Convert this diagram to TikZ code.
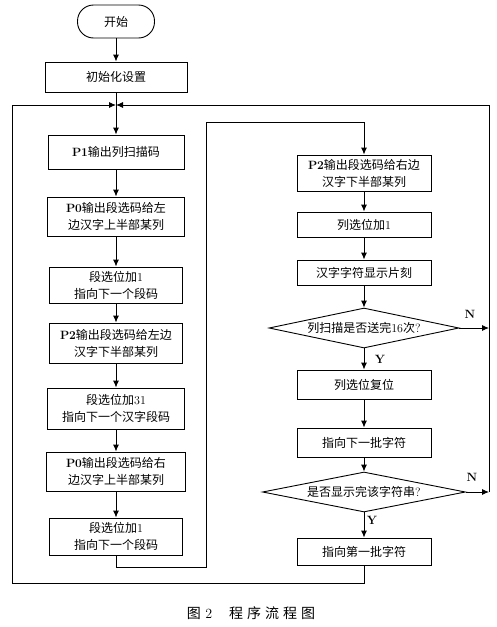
\documentclass[tikz,border=0pt]{standalone}
\usepackage{fontspec}
\newfontfamily\cjk{Noto Sans CJK SC}
\usetikzlibrary{shapes.geometric,arrows.meta}
\newcommand{\zh}[1]{{\cjk #1}}
\begin{document}
\begin{tikzpicture}[x=1pt,y=-1pt,
  line width=0.9pt,
  box/.style={draw, line width=0.9pt, inner sep=0pt, align=center, font=\fontsize{12}{17}\selectfont},
  term/.style={box, rounded corners=16pt},
  dec/.style={draw, diamond, aspect=4.75, inner sep=0pt, line width=0.9pt, font=\fontsize{12}{17}\selectfont},
  lab/.style={font=\fontsize{12}{14}\selectfont\bfseries, inner sep=0pt},
  arr/.style={-{Latex[length=7pt,width=6pt]}}]
\useasboundingbox (0,0) rectangle (497,627);
% left column
\node[term, minimum width=77pt, minimum height=33pt] (start) at (116,21.5) {\zh{开始}};
\node[box, minimum width=142pt, minimum height=30pt] (init) at (116,77) {\zh{初始化设置}};
\node[box, minimum width=136pt, minimum height=34pt] (p1) at (116,152) {\textbf{P1}\zh{输出列扫描码}};
\node[box, minimum width=137pt, minimum height=39pt] (p0l) at (116,216.5) {\textbf{P0}\zh{输出段选码给左}\\\zh{边汉字上半部某列}};
\node[box, minimum width=133pt, minimum height=36pt] (inc1) at (116,285) {\zh{段选位加}1\\\zh{指向下一个段码}};
\node[box, minimum width=133pt, minimum height=40pt] (p2l) at (116,343) {\textbf{P2}\zh{输出段选码给左边}\\\zh{汉字下半部某列}};
\node[box, minimum width=137pt, minimum height=41pt] (inc31) at (116,408.5) {\zh{段选位加}31\\\zh{指向下一个汉字段码}};
\node[box, minimum width=139pt, minimum height=39pt] (p0r) at (116,471.5) {\textbf{P0}\zh{输出段选码给右}\\\zh{边汉字上半部某列}};
\node[box, minimum width=133pt, minimum height=37pt] (inc1b) at (116,536.5) {\zh{段选位加}1\\\zh{指向下一个段码}};
% right column
\node[box, minimum width=134pt, minimum height=36pt] (p2r) at (364,173) {\textbf{P2}\zh{输出段选码给右边}\\\zh{汉字下半部某列}};
\node[box, minimum width=134pt, minimum height=25pt] (colinc) at (364,224.5) {\zh{列选位加}1};
\node[box, minimum width=134pt, minimum height=25pt] (show) at (364,272.5) {\zh{汉字字符显示片刻}};
\node[dec, minimum width=190pt, minimum height=40pt] (d1) at (364,328) {\zh{列扫描是否送完}16\zh{次}?};
\node[box, minimum width=134pt, minimum height=29pt] (rst) at (364,384.5) {\zh{列选位复位}};
\node[box, minimum width=134pt, minimum height=29pt] (nxt) at (364,442.5) {\zh{指向下一批字符}};
\node[dec, minimum width=203pt, minimum height=40pt] (d2) at (364,492) {\zh{是否显示完该字符串}?};
\node[box, minimum width=134pt, minimum height=27pt] (first) at (364,551.5) {\zh{指向第一批字符}};
% coordinates
\coordinate (m) at (116,105);
\coordinate (tl) at (12,105);
\coordinate (bl) at (12,583);
\coordinate (tr) at (489,105);
\coordinate (n1) at (489,328);
\coordinate (n2) at (489,492);
\coordinate (fb) at (364,583);
\coordinate (lb) at (116,567);
\coordinate (lr) at (206,567);
\coordinate (lt) at (206,122);
\coordinate (rt) at (364,122);
% connectors
\draw[arr] (start) -- (init);
\draw[arr] (init) -- (p1);
\draw[arr] (p1) -- (p0l);
\draw[arr] (p0l) -- (inc1);
\draw[arr] (inc1) -- (p2l);
\draw[arr] (p2l) -- (inc31);
\draw[arr] (inc31) -- (p0r);
\draw[arr] (p0r) -- (inc1b);
\draw[arr] (inc1b) -- (lb) -- (lr) -- (lt) -- (rt) -- (p2r);
\draw[arr] (p2r) -- (colinc);
\draw[arr] (colinc) -- (show);
\draw[arr] (show) -- (d1);
\draw[arr] (d1) -- (rst);
\draw[arr] (rst) -- (nxt);
\draw[arr] (nxt) -- (d2);
\draw[arr] (d2) -- (first);
\draw[arr] (first) -- (fb) -- (bl) -- (tl) -- (m);
\draw[arr] (d1) -- (n1);
\draw[arr] (d2) -- (n2);
\draw[arr] (n2) -- (tr) -- (m);
% labels
\node[lab] (ln1) at (470,314) {N};
\node[lab] (ln2) at (472,477) {N};
\node[lab] (ly1) at (380,359) {Y};
\node[lab] (ly2) at (372,520) {Y};
% caption
\node (cap) at (251,613) {\fontsize{14}{14}\selectfont\zh{图}\ 2\hspace{1.2em}\zh{程\hspace{4pt}序\hspace{4pt}流\hspace{4pt}程\hspace{4pt}图}};
\end{tikzpicture}
\end{document}
